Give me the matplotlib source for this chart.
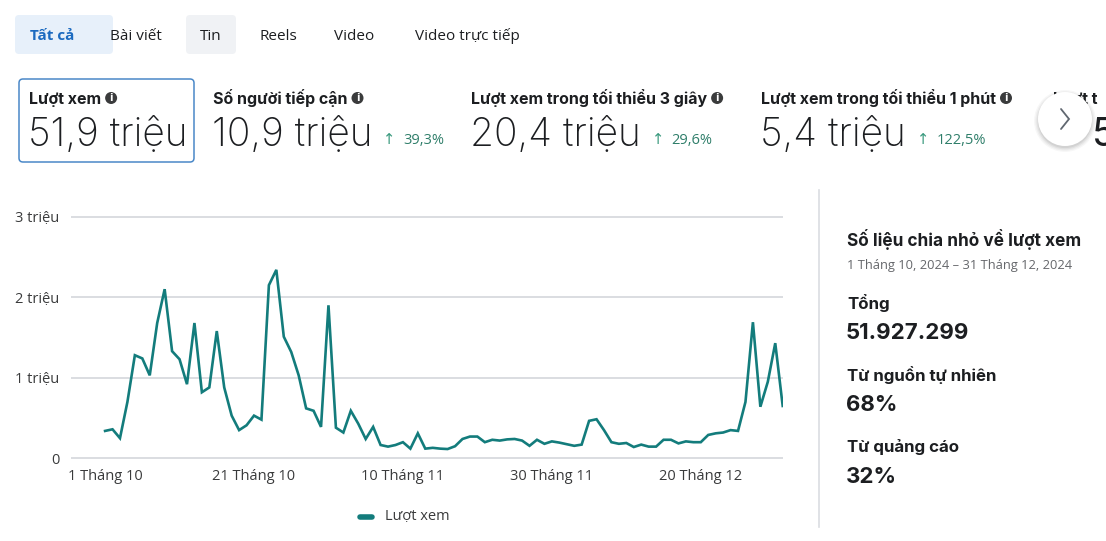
import matplotlib
matplotlib.use("Agg")
import matplotlib.pyplot as plt
import matplotlib.patches as mpatches
import numpy as np
import pandas as pd

# ---------------- data ----------------
start_date = "2024-10-01"
end_date = "2024-12-31"
views_million = [0.34, 0.36, 0.25, 0.70, 1.28, 1.24, 1.03, 1.68, 2.10, 1.33,
                 1.23, 0.92, 1.68, 0.82, 0.88, 1.58, 0.88, 0.53, 0.35, 0.41,
                 0.53, 0.48, 2.15, 2.34, 1.51, 1.32, 1.03, 0.62, 0.59, 0.39,
                 1.90, 0.38, 0.32, 0.59, 0.43, 0.24, 0.39, 0.165, 0.145, 0.165,
                 0.20, 0.12, 0.31, 0.12, 0.13, 0.12, 0.115, 0.15, 0.24, 0.27,
                 0.27, 0.20, 0.23, 0.22, 0.235, 0.24, 0.22, 0.155, 0.23, 0.18,
                 0.21, 0.195, 0.175, 0.155, 0.17, 0.465, 0.485, 0.35, 0.20, 0.18,
                 0.19, 0.14, 0.17, 0.145, 0.145, 0.23, 0.23, 0.185, 0.21, 0.20,
                 0.20, 0.29, 0.31, 0.32, 0.35, 0.34, 0.70, 1.69, 0.64, 0.95,
                 1.43, 0.65]
x_tick_dates = ["2024-10-01", "2024-10-21", "2024-11-10", "2024-11-30", "2024-12-20"]
x_tick_labels = ["1 Tháng 10", "21 Tháng 10", "10 Tháng 11", "30 Tháng 11", "20 Tháng 12"]
y_ticks = [0, 1, 2, 3]
y_tick_labels = ["0", "1 triệu", "2 triệu", "3 triệu"]
series_name = "Lượt xem"

tabs = ["Tất cả", "Bài viết", "Tin", "Reels", "Video", "Video trực tiếp"]
metric_names = ["Lượt xem", "Số người tiếp cận", "Lượt xem trong tối thiểu 3 giây",
                "Lượt xem trong tối thiểu 1 phút"]
metric_values = ["51,9 triệu", "10,9 triệu", "20,4 triệu", "5,4 triệu"]
metric_changes = ["", "39,3%", "29,6%", "122,5%"]

panel_title = "Số liệu chia nhỏ về lượt xem"
panel_range = "1 Tháng 10, 2024 – 31 Tháng 12, 2024"
panel_labels = ["Tổng", "Từ nguồn tự nhiên", "Từ quảng cáo"]
panel_values = ["51.927.299", "68%", "32%"]

# ---------------- style ----------------
W, H = 1106, 541
TEAL = "#137C7C"
DARK = "#1C1E21"
GREY = "#65676B"
GRID = "#DADDE1"
UIF = ["Inter", "DejaVu Sans"]
TICKF = ["Open Sans", "DejaVu Sans"]

fig = plt.figure(figsize=(W / 100, H / 100), dpi=100)
fig.patch.set_facecolor("white")


def Y(y):
    return H - y


# ---------------- chart ----------------
dates = pd.date_range(start_date, end_date, freq="D")
ppu = 80.5            # pixels per million
ax_left, ax_right = 70.7, 783.3
y0_px, y3_px = 458.3, 216.7
ypad = 0.05
ax_bottom = y0_px + ypad * ppu
ax_top = y3_px - ypad * ppu
ax = fig.add_axes([ax_left / W, Y(ax_bottom) / H, (ax_right - ax_left) / W,
                   (ax_bottom - ax_top) / H])
ax.plot(dates, views_million, color=TEAL, lw=1.9, solid_joinstyle="miter", zorder=3)
left_days = (ax_left - 105.0) / 7.43
right_days = (ax_right - 782.7) / 7.43
ax.set_xlim(dates[0] + pd.Timedelta(days=left_days), dates[-1] + pd.Timedelta(days=right_days))
ax.set_ylim(-ypad, 3 + ypad)
ax.set_yticks(y_ticks)
ax.set_yticklabels(y_tick_labels)
ax.set_xticks(pd.to_datetime(x_tick_dates))
ax.set_xticklabels(x_tick_labels)
for s in ax.spines.values():
    s.set_visible(False)
ax.grid(axis="y", color=GRID, lw=1.4)
ax.grid(axis="x", visible=False)
ax.tick_params(axis="both", length=0, labelcolor="#3A3B3C")
ax.tick_params(axis="y", pad=8)
ax.tick_params(axis="x", pad=5)
for lab in ax.get_xticklabels() + ax.get_yticklabels():
    lab.set_fontfamily(TICKF)
    lab.set_fontsize(10.5)
ax.set_facecolor("none")

# ---------------- UI overlay ----------------
ui = fig.add_axes([0, 0, 1, 1], zorder=-1)
ui.set_xlim(0, W)
ui.set_ylim(0, H)
ui.axis("off")


def rbox(x0, y0, x1, y1, fc, ec="none", lw=0, r=4, z=1):
    p = mpatches.FancyBboxPatch((x0 + r, Y(y1) + r), (x1 - x0) - 2 * r, (y1 - y0) - 2 * r,
                                boxstyle=f"round,pad={r}", fc=fc, ec=ec, lw=lw, zorder=z)
    ui.add_patch(p)


def txt(x, y, s, size, color=DARK, weight="normal", ha="left", family=UIF, va="center", **kw):
    return ui.text(x, Y(y), s, fontsize=size, color=color, fontweight=weight, ha=ha,
                   va=va, family=family, **kw)


fig.canvas.draw()
rend = fig.canvas.get_renderer()

# tabs
rbox(15, 15, 113, 54, "#E7F0FA")
rbox(186, 15, 236, 54, "#F0F2F5")
tab_x = [51, 136, 211, 278, 354, 467]
for i, (t, tx) in enumerate(zip(tabs, tab_x)):
    if i == 0:
        txt(tx + 1, 40.5, t, 11, color="#1B6AC0", weight="bold", ha="center",
            family=TICKF, va="baseline")
    else:
        txt(tx, 40.5, t, 11, color=DARK, ha="center", family=TICKF, va="baseline")

# metric cards
rbox(19, 79, 194, 162, "white", ec="#4A88C8", lw=1.1, r=4)
name_x = [29, 213, 471, 761]
for i in range(4):
    t = txt(name_x[i], 104, metric_names[i], 11.5, weight="bold", va="baseline")
    bb = t.get_window_extent(renderer=rend)
    ix = bb.x1 + 10
    ui.add_patch(mpatches.Circle((ix, Y(98)), 6, fc="#3A3B3C", ec="none"))
    ui.text(ix, Y(98) - 0.3, "i", fontsize=7, color="white", fontweight="bold",
            ha="center", va="center", family=["DejaVu Sans"])
    v = txt(name_x[i] - 1, 146, metric_values[i], 28, color=DARK, weight="light",
            va="baseline")
    if metric_changes[i]:
        vb = v.get_window_extent(renderer=rend)
        ax_ = vb.x1 + 17
        txt(ax_, 139, "↑", 10.5, color="#3A9A7E", ha="center", family=["DejaVu Sans"])
        txt(ax_ + 14, 144, metric_changes[i], 10.5, color="#2F7E6A", family=TICKF,
            va="baseline")

# partially hidden next card
txt(1053, 104, "Lượt t", 11.5, weight="bold", va="baseline", zorder=2)
txt(1092, 146, "5", 28, va="baseline", zorder=2)
# round next button with soft shadow
for k, a in enumerate([0.03, 0.04, 0.05, 0.06]):
    ui.add_patch(mpatches.Circle((1065, Y(121)), 31 - k * 1.3, fc="black", alpha=a,
                                 ec="none", zorder=5))
ui.add_patch(mpatches.Circle((1065, Y(119)), 27, fc="white", ec="none", zorder=6))
ui.plot([1061, 1069, 1061], [Y(109), Y(119), Y(129)], color="#606770", lw=1.3,
        solid_capstyle="round", solid_joinstyle="miter", zorder=7)

# divider
ui.plot([818.5, 818.5], [Y(190), Y(527)], color="#DADDE1", lw=1.2)

# legend
ui.plot([360, 372], [Y(517), Y(517)], color=TEAL, lw=4, solid_capstyle="round")
txt(385, 517, series_name, 10.5, color="#3A3B3C", family=TICKF)

# right panel
txt(847, 240, panel_title, 12.4, weight="bold")
txt(847, 266, panel_range, 9.3, color=GREY, family=TICKF)
lab_y = [303, 375, 447]
val_y = [333, 405, 477]
for lab, val, ly, vy in zip(panel_labels, panel_values, lab_y, val_y):
    txt(847, ly, lab, 12.2, weight="bold")
    txt(846, vy, val, 16, weight="bold")

fig.savefig("out.png", dpi=100, facecolor="white")
